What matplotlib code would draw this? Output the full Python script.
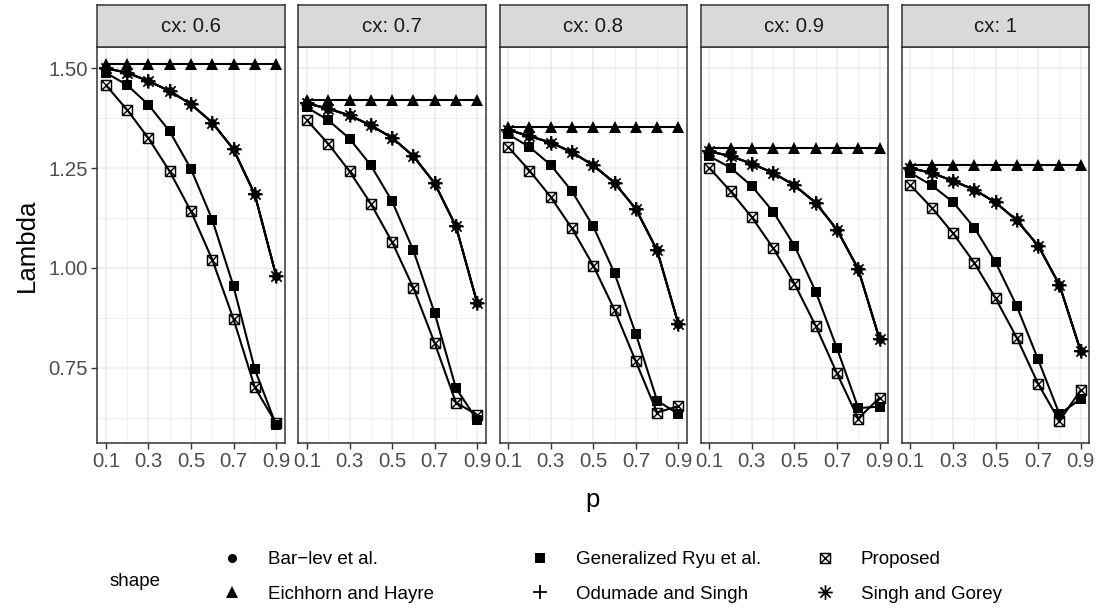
import matplotlib
matplotlib.use('Agg')
import matplotlib.pyplot as plt
from matplotlib.path import Path
from matplotlib.lines import Line2D
from matplotlib.ticker import FixedLocator

plt.rcParams['font.family'] = ['Liberation Sans', 'DejaVu Sans']

# ---------------- data ----------------
p = [0.1, 0.2, 0.3, 0.4, 0.5, 0.6, 0.7, 0.8, 0.9]
cx_labels = ['cx: 0.6', 'cx: 0.7', 'cx: 0.8', 'cx: 0.9', 'cx: 1']
methods = ['Bar\u2212lev et al.', 'Eichhorn and Hayre', 'Generalized Ryu et al.',
           'Odumade and Singh', 'Proposed', 'Singh and Gorey']

eichhorn = [
    [1.510] * 9,
    [1.421] * 9,
    [1.354] * 9,
    [1.301] * 9,
    [1.258] * 9,
]
gen_ryu = [
    [1.489, 1.458, 1.409, 1.342, 1.248, 1.121, 0.954, 0.746, 0.607],
    [1.402, 1.370, 1.324, 1.257, 1.167, 1.044, 0.887, 0.699, 0.619],
    [1.335, 1.303, 1.258, 1.192, 1.104, 0.987, 0.835, 0.668, 0.634],
    [1.280, 1.251, 1.205, 1.141, 1.056, 0.941, 0.799, 0.649, 0.653],
    [1.238, 1.207, 1.165, 1.101, 1.014, 0.904, 0.771, 0.634, 0.672],
]
proposed = [
    [1.458, 1.396, 1.325, 1.242, 1.142, 1.021, 0.872, 0.701, 0.611],
    [1.370, 1.311, 1.242, 1.161, 1.065, 0.950, 0.812, 0.663, 0.632],
    [1.303, 1.244, 1.178, 1.099, 1.006, 0.895, 0.766, 0.638, 0.654],
    [1.251, 1.192, 1.127, 1.050, 0.961, 0.855, 0.736, 0.623, 0.675],
    [1.207, 1.151, 1.087, 1.013, 0.924, 0.825, 0.710, 0.617, 0.694],
]
singh_gorey = [
    [1.500, 1.489, 1.468, 1.443, 1.410, 1.364, 1.297, 1.184, 0.981],
    [1.412, 1.399, 1.382, 1.357, 1.326, 1.280, 1.212, 1.104, 0.912],
    [1.346, 1.330, 1.314, 1.290, 1.257, 1.213, 1.148, 1.044, 0.860],
    [1.292, 1.280, 1.261, 1.238, 1.207, 1.163, 1.096, 0.997, 0.822],
    [1.250, 1.238, 1.218, 1.196, 1.164, 1.119, 1.056, 0.958, 0.792],
]
bar_lev = singh_gorey
odumade = singh_gorey

series = [bar_lev, eichhorn, gen_ryu, odumade, proposed, singh_gorey]

# ---------------- markers ----------------
M, L = Path.MOVETO, Path.LINETO
d = 0.7071
star = Path([(-1, 0), (1, 0), (0, -1), (0, 1), (-d, -d), (d, d), (-d, d), (d, -d)],
            [M, L, M, L, M, L, M, L])
boxx = Path([(-1, -1), (1, -1), (1, 1), (-1, 1), (-1, -1), (-1, -1), (1, 1), (-1, 1), (1, -1)],
            [M, L, L, L, L, M, L, M, L])

mstyle = [
    dict(marker='o', ms=6.5, mfc='black', mec='black', mew=0),
    dict(marker='^', ms=8.8, mfc='black', mec='black', mew=0),
    dict(marker='s', ms=7.4, mfc='black', mec='black', mew=0),
    dict(marker='+', ms=9.5, mfc='none', mec='black', mew=1.3),
    dict(marker=boxx, ms=7.2, mfc='none', mec='black', mew=1.05),
    dict(marker=star, ms=10.5, mfc='none', mec='black', mew=1.25),
]

# ---------------- layout ----------------
W, H = 1099, 614
fig = plt.figure(figsize=(W / 100, H / 100), dpi=100)

p_left0, p_step, p_w = 97.3, 201.15, 187.3
p_top, p_bot = 47.3, 442.7
s_top = 5.0

border = '#333333'
grid_c = '#EBEBEB'

for i, lab in enumerate(cx_labels):
    left = p_left0 + i * p_step
    ax = fig.add_axes([left / W, (H - p_bot) / H, p_w / W, (p_bot - p_top) / H])
    for s, st in zip(series, mstyle):
        ax.plot(p, s[i], color='black', lw=1.5, zorder=2, solid_capstyle='butt')
    for s, st in zip(series, mstyle):
        ax.plot(p, s[i], ls='none', zorder=3, **st)
    ax.set_xlim(0.06, 0.94)
    ax.set_ylim(0.5625, 1.5525)
    ax.xaxis.set_major_locator(FixedLocator([0.1, 0.3, 0.5, 0.7, 0.9]))
    ax.xaxis.set_minor_locator(FixedLocator([0.2, 0.4, 0.6, 0.8]))
    ax.yaxis.set_major_locator(FixedLocator([0.75, 1.0, 1.25, 1.5]))
    ax.yaxis.set_minor_locator(FixedLocator([0.625, 0.875, 1.125, 1.375]))
    ax.set_xticklabels(['0.1', '0.3', '0.5', '0.7', '0.9'])
    ax.grid(which='major', color=grid_c, lw=1.1)
    ax.grid(which='minor', color=grid_c, lw=0.55)
    ax.set_axisbelow(True)
    ax.tick_params(which='minor', length=0)
    ax.tick_params(which='major', length=4.0, width=1.0, color=border,
                   labelsize=14.7, labelcolor='#4D4D4D', pad=3.0)
    if i == 0:
        ax.set_yticklabels(['0.75', '1.00', '1.25', '1.50'])
    else:
        ax.tick_params(axis='y', which='both', left=False, labelleft=False)
    for sp in ax.spines.values():
        sp.set_color(border)
        sp.set_linewidth(1.1)

    sax = fig.add_axes([left / W, (H - p_top) / H, p_w / W, (p_top - s_top) / H])
    sax.set_facecolor('#D9D9D9')
    sax.set_xticks([])
    sax.set_yticks([])
    for sp in sax.spines.values():
        sp.set_color(border)
        sp.set_linewidth(1.1)
    sax.text(0.5, 0.5, lab, ha='center', va='center', fontsize=14.7,
             color='#1A1A1A', transform=sax.transAxes)

fig.text(593 / W, 1 - 500 / H, 'p', ha='center', va='center', fontsize=18.5)
fig.text(27 / W, 1 - 245 / H, 'Lambda', ha='center', va='center',
         rotation=90, fontsize=18.5)

# ---------------- legend ----------------
fig.text(110 / W, 1 - 582 / H, 'shape', ha='left', va='center', fontsize=13.5)
fs = 13.5
em = fs * 100 / 72
handles = []
for st in mstyle:
    handles.append(Line2D([], [], ls='none', color='black', **st))
col_marker_x = [232, 540, 825]
for c in range(3):
    hl = 2.0
    x0 = (col_marker_x[c] - hl * em / 2) / W
    fig.legend(handles[2 * c:2 * c + 2], methods[2 * c:2 * c + 2],
               loc='center left', bbox_to_anchor=(x0, 1 - 577 / H),
               frameon=False, fontsize=fs, handlelength=hl, handletextpad=0.92,
               borderpad=0, borderaxespad=0, labelspacing=0.95)

fig.savefig('out.png', dpi=100)
